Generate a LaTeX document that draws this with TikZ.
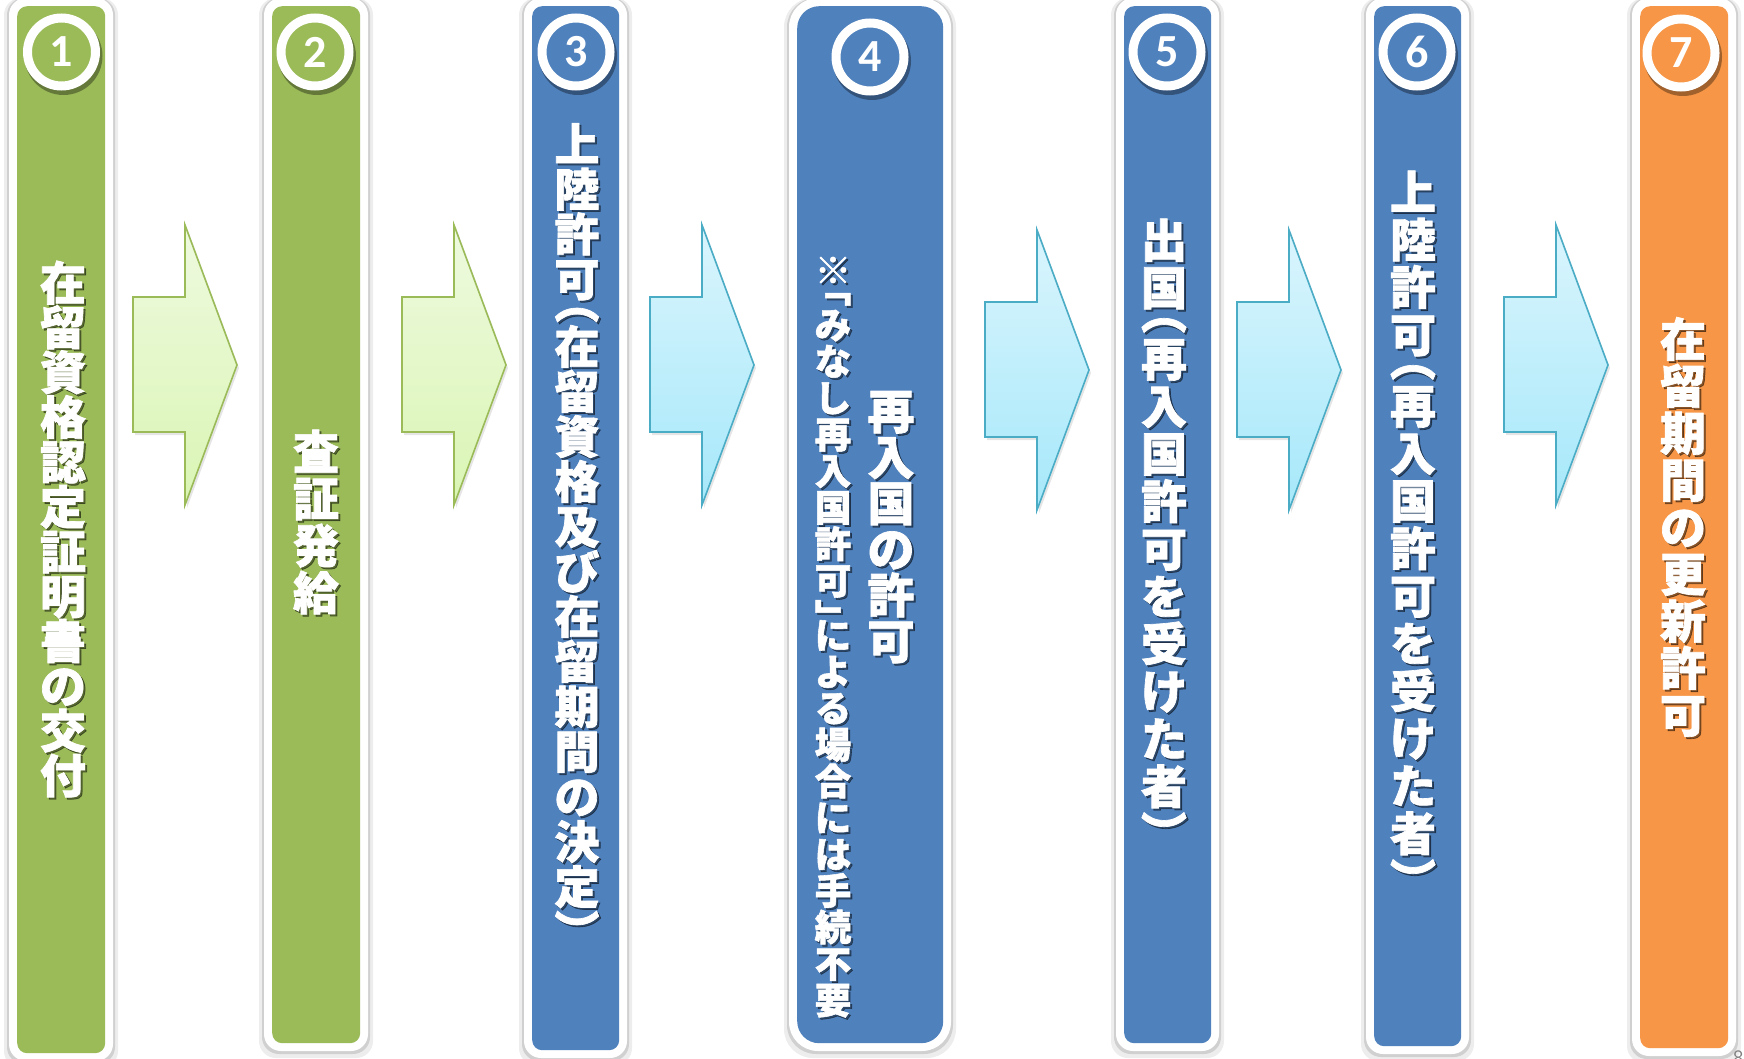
\documentclass[tikz,border=0pt]{standalone}
\usepackage{fontspec}
\newfontfamily\cjk{Noto Sans CJK JP}[BoldFeatures={FakeBold=1.5}]
\newfontfamily\numfont{Carlito}
\definecolor{gbar}{HTML}{9BBB59}
\definecolor{bbar}{HTML}{4F81BD}
\definecolor{obar}{HTML}{F79646}
\definecolor{gtop}{HTML}{EEFADF}
\definecolor{gbot}{HTML}{DAF5B4}
\definecolor{btop}{HTML}{DAF5FD}
\definecolor{bbot}{HTML}{A6E8FA}
\definecolor{bline}{HTML}{4BACC6}
\newcommand\LP{︵}\newcommand\RP{︶}\newcommand\LB{﹁}\newcommand\RB{﹂}
\tikzset{
  vlab/.style={text=white, inner sep=0pt},
  vshadow/.style={vlab, text=black, text opacity=.45},
  numcirc/.style={circle, draw=white, line width=9pt, minimum size=68pt, inner sep=0pt,
     text=white, font=\numfont\bfseries\fontsize{46}{46}\selectfont},
  garrow/.style={draw=gbar, line width=1.6pt, top color=gtop, bottom color=gbot, line join=miter},
  barrow/.style={draw=bline, line width=1.6pt, top color=btop, bottom color=bbot, line join=miter},
}
% bar: name, x1, x2, bottom, colour, radius, outer radius
\newcommand\stepbar[7]{%
  \fill[black,opacity=.07,rounded corners=#7pt] (#2-13,-2) rectangle (#3+13,#4+15);
  \fill[black,opacity=.12,rounded corners=#7pt] (#2-10,-2) rectangle (#3+10,#4+11);
  \fill[white,rounded corners=#7pt] (#2-8,-2) rectangle (#3+8,#4+8);
  \node[fill=#5, rounded corners=#6pt, inner sep=0pt, anchor=north west,
        minimum width={#3-#2}, minimum height={#4-6}] (#1) at (#2,6) {};
}
% circle: name, x, y, colour, number
\newcommand\stepnum[5]{%
  \fill[black,opacity=.35] (#2+2,#3+4) circle (39);
  \node[text=black, text opacity=.4, font=\numfont\bfseries\fontsize{46}{46}\selectfont] at (#2+1.5,#3+2) {#5};
  \node[numcirc, fill=#4] (#1) at (#2,#3) {#5};
}
% arrow: left x, tip y, style
\newcommand\steparrow[3]{%
  \fill[black,opacity=.10] (#1+2,#2-65) -- (#1+54,#2-65) -- (#1+54,#2-137) -- (#1+106,#2+3)
     -- (#1+54,#2+143) -- (#1+54,#2+70) -- (#1+2,#2+70) -- cycle;
  \draw[#3] (#1,#2-68) -- (#1+52,#2-68) -- (#1+52,#2-140) -- (#1+104,#2)
     -- (#1+52,#2+140) -- (#1+52,#2+67) -- (#1,#2+67) -- cycle;
}
% vertical label, one node per character: name, x, first centre y, size, pitch, list
% brackets take half a cell (the half of the em box that holds their ink)
\newcommand\steplabel[6]{%
  \pgfmathsetmacro\curY{#3-0.5*#5}\global\let\curY\curY
  \foreach \ch [count=\k] in {#6} {%
    \def\pre{.5}\def\post{.5}\def\hf{0.88}\def\sh{0}%
    \expandafter\ifx\ch\LP \def\pre{.25}\def\post{.25}\def\hf{0.38}\fi
    \expandafter\ifx\ch\LB \def\pre{.25}\def\post{.25}\def\hf{0.38}\fi
    \expandafter\ifx\ch\RP \def\pre{.25}\def\post{.25}\def\hf{0.38}\def\sh{-0.5}\fi
    \expandafter\ifx\ch\RB \def\pre{.25}\def\post{.25}\def\hf{0.38}\def\sh{-0.5}\fi
    \pgfmathsetmacro\thisY{\curY+\pre*#5}%
    \pgfmathsetmacro\tht{\hf*#4}\pgfmathsetmacro\tdp{0.12*#4}%
    \node[vshadow, text height=\tht pt, text depth=\tdp pt,
          font={\cjk\bfseries\fontsize{#4}{#4}\selectfont}] at (#2+2,\thisY+2) {\raisebox{\sh em}{\ch}};
    \node[vlab, text height=\tht pt, text depth=\tdp pt,
          font={\cjk\bfseries\fontsize{#4}{#4}\selectfont}] (#1-\k) at (#2,\thisY) {\raisebox{\sh em}{\ch}};
    \pgfmathsetmacro\nextY{\thisY+\post*#5}%
    \global\let\curY\nextY
  }%
}
\begin{document}
\begin{tikzpicture}[x=1pt,y=-1pt]
\useasboundingbox[fill=white] (0,0) rectangle (1744,1059);

\stepbar{b1}{17}{105}{1053}{gbar}{10}{17}
\stepbar{b2}{272}{360}{1043}{gbar}{10}{17}
\stepbar{b3}{532}{619}{1050}{bbar}{10}{17}
\stepbar{b4}{797}{943}{1043}{bbar}{22}{29}
\stepbar{b5}{1124}{1211}{1043}{bbar}{10}{17}
\stepbar{b6}{1374}{1461}{1046}{bbar}{10}{17}
\stepbar{b7}{1640}{1728}{1048}{obar}{10}{17}

\steparrow{133}{365}{garrow}
\steparrow{402}{365}{garrow}
\steparrow{650}{365}{barrow}
\steparrow{985}{370}{barrow}
\steparrow{1237}{370}{barrow}
\steparrow{1504}{365}{barrow}

\stepnum{c1}{61.5}{52}{gbar}{1}
\stepnum{c2}{315}{52}{gbar}{2}
\stepnum{c3}{576}{52}{bbar}{3}
\stepnum{c4}{870}{57}{bbar}{4}
\stepnum{c5}{1167}{52}{bbar}{5}
\stepnum{c6}{1417}{52}{bbar}{6}
\stepnum{c7}{1681}{53}{obar}{7}

\steplabel{t1}{63}{282.6}{46}{44.8}{在,留,資,格,認,定,証,明,書,の,交,付}
\steplabel{t2}{316}{451.5}{46}{47}{査,証,発,給}
\steplabel{t3}{577}{144}{45}{45}{上,陸,許,可,\LP,在,留,資,格,及,び,在,留,期,間,の,決,定,\RP}
\steplabel{t4a}{891}{411}{47}{46}{再,入,国,の,許,可}
\steplabel{t4b}{833}{270}{36.5}{36.5}{※,\LB,み,な,し,再,入,国,許,可,\RB,に,よ,る,場,合,に,は,手,続,不,要}
\steplabel{t5}{1164}{240}{46}{47.5}{出,国,\LP,再,入,国,許,可,を,受,け,た,者,\RP}
\steplabel{t6}{1413}{192}{46}{47.5}{上,陸,許,可,\LP,再,入,国,許,可,を,受,け,た,者,\RP}
\steplabel{t7}{1683}{339}{46}{47}{在,留,期,間,の,更,新,許,可}

\node[anchor=west, inner sep=0pt, text=gray, font=\sffamily\fontsize{22}{22}\selectfont] (pg) at (1733,1058) {8};
\end{tikzpicture}
\end{document}
